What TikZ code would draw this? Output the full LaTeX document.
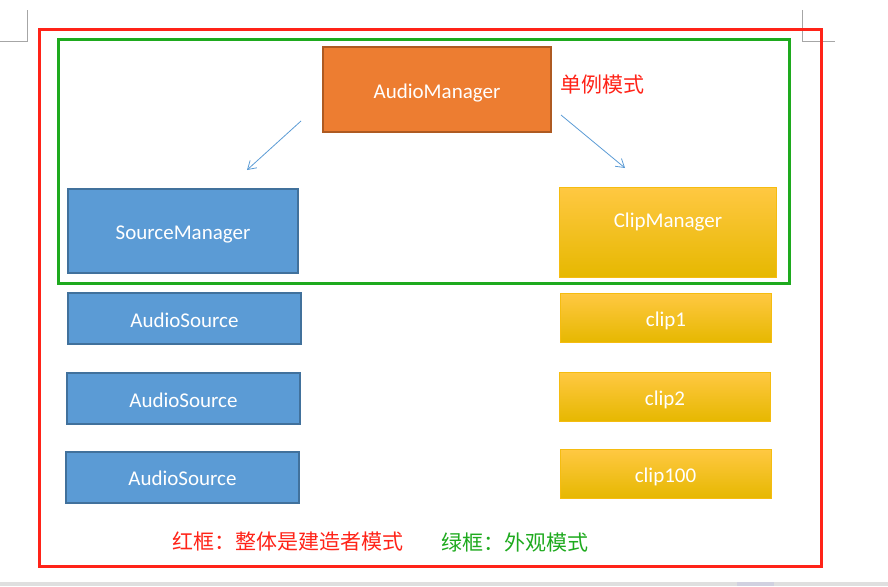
\documentclass[tikz,border=0pt]{standalone}
\usepackage{fontspec}
\setmainfont{Carlito}
\newfontfamily\cjkfont{Noto Sans CJK SC}
\usetikzlibrary{arrows.meta}
\definecolor{amorange}{HTML}{ED7D31}
\definecolor{amedge}{HTML}{AE5A21}
\definecolor{srcblue}{HTML}{5B9BD5}
\definecolor{srcedge}{HTML}{41719C}
\definecolor{goldtop}{HTML}{FFC842}
\definecolor{goldmid}{HTML}{FFC400}
\definecolor{goldbot}{HTML}{E6B800}
\definecolor{clipedge}{HTML}{F5BC10}
\definecolor{framered}{HTML}{FF2318}
\definecolor{framegreen}{HTML}{1EAA1E}
\begin{document}
\begin{tikzpicture}[x=1pt,y=-1pt]
    % Define styles for boxes, arrows and frames
    \tikzstyle{box}=[draw,text=white,font=\fontsize{21}{25}\selectfont,inner sep=0pt,text height=17pt,text depth=0pt]
    \tikzstyle{orangebox}=[box,fill=amorange,draw=amedge,line width=2pt]
    \tikzstyle{bluebox}=[box,fill=srcblue,draw=srcedge,line width=2pt]
    \tikzstyle{goldbox}=[box,draw=clipedge,line width=1pt,top color=goldtop,middle color=goldmid,bottom color=goldbot]
    \tikzstyle{link}=[draw=srcblue,line width=0.8pt,-{Straight Barb[length=8pt,width=10pt]}]
    \tikzstyle{frame}=[line width=3pt]
    \tikzstyle{note}=[inner sep=0pt,font=\cjkfont\fontsize{21}{25}\selectfont]

    \useasboundingbox (0,0) rectangle (888,586);

    % Page marks of the editor
    \draw[gray!70,line width=1pt] (0,42) -- (27,42) -- (27,10);
    \draw[gray!70,line width=1pt] (802,10) -- (802,42) -- (835,42);
    \fill[gray!25] (0,582) rectangle (888,586);
    \fill[blue!20!gray!30] (737,582) rectangle (774,586);

    % Outer frames
    \draw[frame,draw=framered] (39.5,29.5) rectangle (821.5,566);
    \draw[frame,draw=framegreen] (58.5,39.5) rectangle (789.5,283);

    % Singleton manager
    \node[orangebox,minimum width=228pt,minimum height=85pt] (am) at (437,89.5) {AudioManager};
    \node[note,text=framered,anchor=west] (single) at (560,85) {单例模式};

    % Managers below it
    \node[bluebox,minimum width=230pt,minimum height=84pt] (sm) at (183,231) {SourceManager};
    \node[goldbox,minimum width=217pt,minimum height=90pt,text depth=28pt] (cm) at (668,232.5) {ClipManager};

    % Arrows
    \coordinate (l1) at (301,121);
    \coordinate (l2) at (247,170);
    \coordinate (r1) at (561,115);
    \coordinate (r2) at (625,168);
    \draw[link] (l1) -- (l2);
    \draw[link] (r1) -- (r2);

    % Audio sources
    \foreach \i/\x/\y in {1/184.5/318.5, 2/183.5/398.5, 3/182.5/477}{
        \node[bluebox,minimum width=233pt,minimum height=51pt] (as\i) at (\x,\y) {AudioSource};
    }
    % Clips
    \foreach \name/\x/\y in {clip1/666/318, clip2/665/397, clip100/665.5/474}{
        \node[goldbox,minimum width=211pt,minimum height=49pt] (\name) at (\x,\y) {\name};
    }

    % Legend
    \node[note,text=framered] (rednote) at (288,542) {红框：整体是建造者模式};
    \node[note,text=framegreen] (greennote) at (515,543) {绿框：外观模式};
\end{tikzpicture}
\end{document}
